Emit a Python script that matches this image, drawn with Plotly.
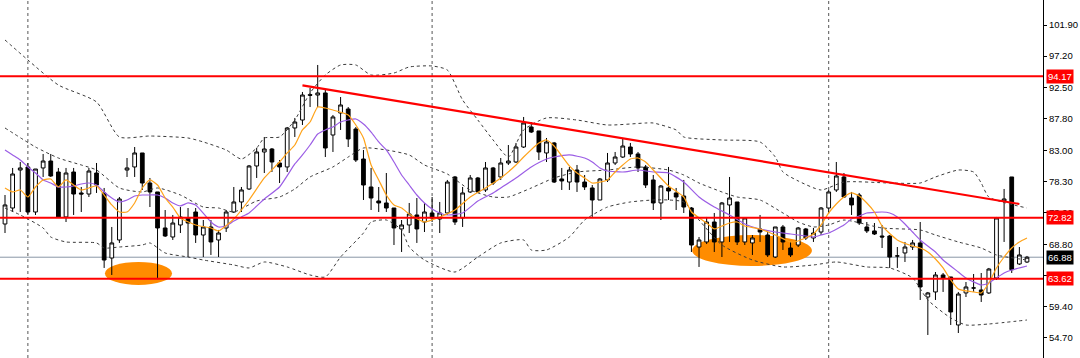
import plotly.graph_objects as go

# ---------------- data (prices) ----------------
opens = [71.89,74.30,80.03,80.49,73.70,80.34,81.39,79.73,72.95,79.73,76.57,76.41,79.58,76.57,66.76,69.48,80.03,80.49,82.60,78.07,
         76.72,71.29,69.93,71.74,72.80,73.70,70.23,71.44,69.48,71.29,73.70,75.21,77.17,80.64,82.75,83.20,81.09,80.49,86.37,87.57,
         91.40,91.34,91.65,85.31,88.63,89.23,86.22,81.69,77.47,75.36,75.06,74.30,71.14,71.74,73.25,72.19,73.55,72.64,73.55,78.98,
         72.80,76.72,78.83,77.02,80.34,78.98,81.09,81.24,83.50,86.52,85.92,82.60,84.11,78.68,78.22,80.03,78.22,77.32,75.51,78.53,
         81.09,81.99,83.50,82.45,80.49,78.53,75.06,77.32,76.57,76.11,74.30,68.42,69.18,72.19,69.18,74.76,75.21,69.18,69.03,71.14,
         70.23,66.91,71.44,68.27,68.72,71.14,69.78,70.68,74.30,77.02,78.98,75.81,76.26,71.44,70.84,70.08,70.08,67.07,67.52,68.42,
         69.03,60.88,61.64,64.20,63.90,56.66,61.49,62.24,61.94,61.49,63.75,75.36,78.98,65.86,66.16]
highs = [76.26,80.34,81.24,81.09,80.18,82.45,82.45,80.34,80.34,80.34,77.47,80.34,81.09,77.32,71.44,75.96,81.84,83.50,82.60,78.83,
         76.72,74.00,73.25,74.45,74.30,74.30,72.49,72.49,70.99,74.00,77.47,77.47,80.79,83.35,85.01,83.35,81.54,86.52,87.88,91.80,
         92.40,95.87,92.10,88.33,91.04,89.53,86.52,83.05,80.34,77.47,79.58,74.30,72.49,75.06,75.81,75.06,75.96,75.21,78.53,79.13,
         77.47,79.28,78.98,81.24,80.49,81.84,83.80,84.11,88.03,87.27,85.92,84.86,84.26,80.34,80.49,80.79,79.28,77.77,78.83,82.60,
         82.75,84.71,84.11,82.75,80.79,79.28,77.77,80.49,77.32,78.53,74.45,69.93,72.95,73.55,75.21,78.98,75.21,72.80,70.23,73.25,
         70.68,71.44,71.74,69.18,71.44,71.29,71.29,74.45,77.02,81.24,79.58,76.72,76.57,72.19,72.04,71.74,70.23,68.42,69.18,69.48,
         72.19,61.64,64.65,64.50,63.90,61.64,63.14,64.35,64.50,65.26,72.95,77.17,78.98,68.42,67.07]
lows = [70.53,73.70,73.70,73.25,73.25,78.98,78.98,72.95,72.19,73.25,73.70,75.96,76.57,65.26,64.20,69.03,78.98,78.98,77.02,74.45,
        63.75,69.93,69.48,70.53,66.91,69.03,66.91,67.22,66.91,70.68,73.55,73.70,77.02,78.83,79.58,79.73,78.07,79.73,85.01,86.82,
        89.53,89.53,81.99,82.75,86.07,83.50,81.24,75.51,74.00,73.70,73.70,68.72,67.67,70.53,69.03,70.68,72.19,70.53,73.25,71.74,
        71.44,76.57,76.57,76.72,77.77,78.53,80.79,81.09,83.35,85.61,81.54,81.24,78.07,77.02,77.02,76.72,77.02,72.95,75.51,78.22,
        80.79,81.84,81.99,79.73,77.32,74.00,72.49,75.51,74.00,73.55,67.67,65.41,68.87,67.67,66.91,69.18,68.72,68.72,67.22,69.18,
        66.91,66.76,67.97,66.91,68.42,69.48,69.18,70.23,73.55,76.72,75.81,73.25,71.74,70.53,70.23,68.27,65.26,65.26,66.16,67.97,
        60.43,55.15,60.43,61.64,56.66,55.45,60.88,61.64,60.13,61.33,63.45,69.18,64.50,65.71,66.01]
closes = [74.76,79.43,80.34,73.70,80.18,81.39,79.13,72.95,79.58,76.41,76.41,79.88,77.77,66.46,69.03,75.66,80.34,82.60,78.07,76.72,
          71.29,70.08,72.04,72.95,72.04,70.23,71.44,69.18,70.53,73.70,75.21,77.02,80.64,82.75,83.20,81.24,80.49,86.37,87.27,91.34,
          91.30,91.65,83.35,88.03,89.84,84.71,81.54,77.77,75.81,75.06,74.30,71.29,71.74,73.40,71.14,73.70,72.80,73.55,78.22,72.19,
          76.57,78.83,76.72,80.34,78.07,81.09,81.39,83.50,87.12,85.76,82.75,84.26,78.22,78.38,80.03,78.22,77.47,75.51,78.68,81.09,
          81.99,83.65,82.45,80.34,77.77,75.06,77.62,76.87,75.96,74.45,68.72,69.48,72.19,69.18,75.06,75.81,69.18,72.80,69.78,70.68,
          67.22,71.44,69.18,67.22,71.29,69.78,70.53,74.30,76.72,79.13,75.96,74.76,72.04,70.84,70.38,69.93,66.91,67.07,68.42,69.03,
          62.39,61.49,64.20,63.75,58.62,61.33,62.39,62.24,61.18,65.10,72.80,75.66,65.00,67.22,66.88]
bars = list(range(len(closes)))

# fast moving average (orange), read at candle indices
ma_fast_x = [0,1,2,3,4,5,6,7,8,9,10,11,12,13,14,15,16,17,18,19,20,21,22,23,25,27,28,30,32,34,36,37,38,39,40,41,42,43,
             45,46,47,48,49,50,51,52,53,55,57,59,61,63,65,67,68,70,71,72,74,75,76,77,79,80,81,82,83,84,85,87,89,90,
             92,93,94,95,96,97,99,101,103,104,106,107,108,109,110,111,112,113,114,115,117,119,120,121,122,123,124,125,
             126,127,128,129,130,131,132,133,134]
ma_fast_y = [77.32,76.72,77.02,75.96,77.47,78.53,78.68,77.47,78.53,77.77,77.02,77.32,77.62,76.26,74.76,73.70,73.70,75.06,
             77.32,78.53,77.77,75.81,74.45,72.80,71.74,71.29,70.84,72.64,75.51,78.83,81.24,82.60,83.80,86.07,87.27,89.53,
             89.38,89.08,88.33,86.82,84.86,80.79,78.53,76.26,74.76,74.30,73.40,72.19,72.95,74.00,75.96,77.32,78.83,80.79,
             81.99,84.11,84.56,83.65,80.64,79.58,78.83,78.07,78.53,79.73,80.79,81.69,81.84,81.24,80.03,77.62,75.96,73.70,
             72.04,71.14,71.59,72.04,72.19,71.59,71.14,70.23,69.18,69.33,70.38,71.74,73.55,74.91,75.96,76.57,76.11,75.06,
             73.70,71.59,69.48,68.57,68.27,67.67,66.61,65.26,63.45,62.09,61.79,61.64,61.49,62.99,65.26,66.91,68.27,69.18,69.78]

# slow moving average (purple)
ma_slow_x = [0,1,2,3,4,5,6,7,8,9,10,11,12,13,14,15,16,17,18,19,20,21,22,23,24,25,27,28,29,30,31,32,34,36,38,39,40,41,
             42,43,44,45,46,47,48,49,50,51,52,53,54,55,56,57,58,60,62,64,65,67,69,71,72,74,76,77,78,79,81,83,85,87,89,
             91,93,95,97,99,101,103,105,106,107,108,110,111,112,113,115,116,117,118,119,120,122,123,125,126,128,129,130,
             131,132,134]
ma_slow_y = [83.05,82.30,81.54,80.49,79.58,78.53,78.07,77.47,77.47,77.62,77.92,78.07,77.77,76.72,75.81,75.21,75.51,76.11,
             76.26,76.26,76.26,75.81,75.06,74.61,75.06,74.76,72.19,71.44,71.59,72.34,72.95,73.55,75.66,77.47,80.94,82.30,
             83.80,85.46,86.07,86.52,87.27,87.57,87.73,86.97,85.76,84.26,83.05,81.24,79.28,77.77,76.26,75.06,74.15,73.55,
             73.25,73.55,75.36,76.57,77.32,78.83,80.49,81.69,81.99,82.30,81.84,81.24,80.34,79.88,79.73,80.03,79.73,79.58,
             78.22,75.96,74.45,73.25,71.89,71.14,70.68,70.38,70.08,69.93,70.23,70.53,71.74,72.64,73.10,73.55,73.70,73.55,
             72.95,71.89,70.68,69.48,67.67,66.46,64.65,63.75,62.69,62.99,63.75,64.50,64.95,65.56]

# Bollinger bands (dashed)
bb_up_x = [0,3,7,12,15,19,24,26,29,31,33,34,36,38,40,42,44,46,48,51,53,56,58,60,62,64,66,68,71,75,79,84,85,88,89,
           94,99,101,102,104,107,110,116,120,122,125,127,128,129,134]
bb_up_y = [99.64,96.62,92.85,90.29,85.01,85.16,84.86,84.26,83.05,81.69,83.35,84.86,85.01,87.57,91.65,94.36,95.87,
           95.87,94.36,94.66,95.57,95.72,95.11,90.59,87.57,84.56,81.99,86.07,87.88,87.57,86.82,87.12,87.12,86.07,85.01,
           84.56,84.26,81.99,79.73,78.38,77.02,78.22,78.07,78.07,78.98,80.03,79.73,78.07,75.96,74.30]
bb_mid_x = [0,4,7,10,12,15,18,20,23,26,28,30,33,36,38,40,43,45,47,50,53,55,58,61,64,66,69,72,75,79,83,87,89,91,94,
            96,99,102,104,106,108,110,115,120,122,125,128,130,134]
bb_mid_y = [86.37,83.50,81.84,80.79,80.03,77.32,76.72,77.32,76.26,74.45,74.30,73.70,75.36,75.96,77.17,78.98,80.49,
            81.99,83.35,83.05,82.30,80.79,79.43,77.02,75.96,75.96,77.32,78.83,79.73,80.03,80.49,80.03,79.28,78.07,76.72,
            75.96,75.51,73.55,72.19,71.44,71.74,72.49,71.29,70.99,70.23,69.18,68.27,67.22,66.46]
bb_lo_x = [0,2,5,6,8,12,13,15,18,19,21,24,26,30,32,34,37,40,42,44,47,48,50,52,53,55,59,62,65,68,69,71,74,76,79,82,
           85,87,89,91,94,98,102,106,109,113,116,119,121,124,126,129,134]
bb_lo_y = [74.30,73.25,71.29,69.93,69.18,69.03,68.27,68.42,68.72,69.03,67.52,66.91,66.46,65.71,65.26,66.16,65.41,
           64.20,63.90,66.91,70.53,72.19,72.49,70.99,68.42,66.46,64.65,66.91,69.03,69.48,67.97,67.97,69.93,72.49,74.45,
           75.21,75.51,75.51,75.21,72.49,68.72,66.46,65.41,65.71,66.16,65.41,65.26,63.75,60.43,57.72,56.66,56.81,57.41]

# drawn objects
levels = [94.17, 72.82, 63.62]
last_price = 66.88
trend_x = [39, 133]
trend_y = [92.80, 74.91]
period_sep = [3, 56, 108]
tick_vals = [54.70, 59.40, 64.10, 68.80, 73.60, 78.30, 83.00, 87.80, 92.50, 97.20, 101.90]
tick_text = ["54.70", "59.40", "64.10", "68.80", "73.60", "78.30", "83.00", "87.80", "92.50", "97.20", "101.90"]

# ---------------- figure ----------------
fig = go.Figure()

fig.add_trace(go.Candlestick(
    x=bars, open=opens, high=highs, low=lows, close=closes,
    increasing=dict(line=dict(color="black", width=1), fillcolor="white"),
    decreasing=dict(line=dict(color="black", width=1), fillcolor="black"),
    hoverinfo="skip", showlegend=False, whiskerwidth=0,
))

band_style = dict(color="#3a3a3a", width=1, dash="3px,3px")
for bx, by in [(bb_up_x, bb_up_y), (bb_mid_x, bb_mid_y), (bb_lo_x, bb_lo_y)]:
    fig.add_trace(go.Scatter(x=bx, y=by, mode="lines", line=dict(shape="spline", smoothing=0.6, **band_style),
                             hoverinfo="skip", showlegend=False))

fig.add_trace(go.Scatter(x=ma_slow_x, y=ma_slow_y, mode="lines",
                         line=dict(color="#9b5de5", width=1.2, shape="spline", smoothing=0.5),
                         hoverinfo="skip", showlegend=False))
fig.add_trace(go.Scatter(x=ma_fast_x, y=ma_fast_y, mode="lines",
                         line=dict(color="#ffa31a", width=1.2, shape="spline", smoothing=0.5),
                         hoverinfo="skip", showlegend=False))

fig.add_trace(go.Scatter(x=trend_x, y=trend_y, mode="lines", line=dict(color="#ff0000", width=2.2),
                         hoverinfo="skip", showlegend=False))

shapes = []
# highlighted zones (orange blobs)
shapes.append(dict(type="circle", xref="x", yref="y", x0=13.1, x1=21.9, y0=62.69, y1=66.16,
                   fillcolor="#ff8c00", line=dict(width=0), layer="below"))
shapes.append(dict(type="circle", xref="x", yref="y", x0=90.1, x1=105.8, y0=65.56, y1=70.23,
                   fillcolor="#ff8c00", line=dict(width=0), layer="below"))
for sx in period_sep:
    shapes.append(dict(type="line", xref="x", yref="paper", x0=sx, x1=sx, y0=0, y1=1,
                       line=dict(color="#555555", width=1, dash="3px,3px"), layer="below"))
shapes.append(dict(type="line", xref="paper", yref="y", x0=0, x1=1, y0=last_price, y1=last_price,
                   line=dict(color="#8a97a6", width=1), layer="below"))
for lv in levels:
    shapes.append(dict(type="line", xref="paper", yref="y", x0=0, x1=1, y0=lv, y1=lv,
                       line=dict(color="#ff0000", width=2), layer="above"))

annotations = []
for lv in levels:
    annotations.append(dict(xref="paper", yref="y", x=1, y=lv, xanchor="left", yanchor="middle", xshift=3,
                            text=f"{lv:.2f}", showarrow=False, bgcolor="#ff0000", borderpad=1,
                            font=dict(color="white", size=9.5, family="Liberation Sans")))
annotations.append(dict(xref="paper", yref="y", x=1, y=last_price, xanchor="left", yanchor="middle", xshift=3,
                        text=f"{last_price:.2f}", showarrow=False, bgcolor="#000000", borderpad=1,
                        font=dict(color="white", size=9.5, family="Liberation Sans")))

fig.update_layout(
    width=1080, height=358,
    margin=dict(l=0, r=37, t=0, b=0),
    paper_bgcolor="white", plot_bgcolor="white",
    hovermode=False, showlegend=False,
    shapes=shapes, annotations=annotations,
    xaxis=dict(range=[-0.656, 136.1], showgrid=False, zeroline=False, showticklabels=False,
               ticks="", showline=False, rangeslider=dict(visible=False), fixedrange=True),
    yaxis=dict(range=[51.68, 105.67], side="right", showgrid=False, zeroline=False,
               tickvals=tick_vals, ticktext=tick_text, ticks="outside", ticklen=3, tickcolor="black",
               showline=True, linecolor="black", linewidth=1,
               tickfont=dict(family="Liberation Sans", size=9.5, color="black"), fixedrange=True),
)

fig.write_html("out.html", config={"displayModeBar": False},
               post_script="document.body.style.margin='0';document.body.style.overflow='hidden';")
